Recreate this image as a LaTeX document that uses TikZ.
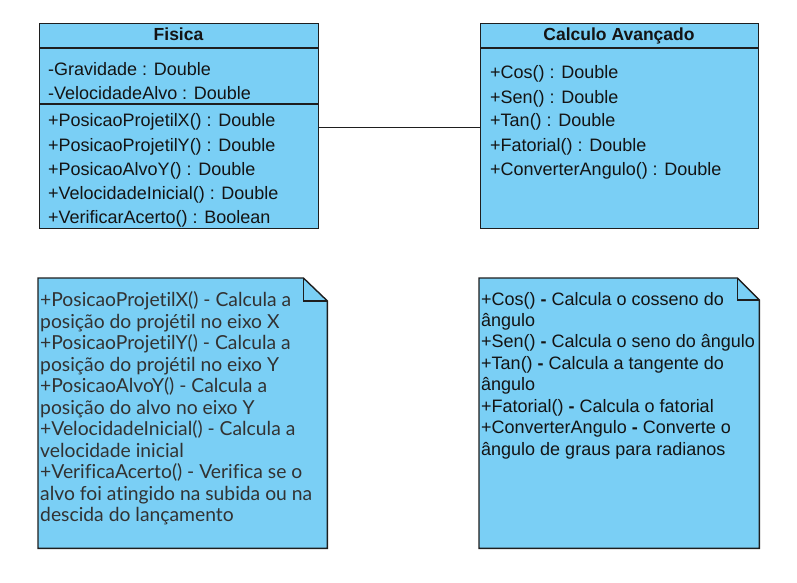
\documentclass[tikz,border=0pt]{standalone}
\usepackage{fontspec}
\setmainfont{Liberation Sans}
\newfontfamily\notefont[Ligatures={NoCommon}]{Lato}
\definecolor{boxfill}{RGB}{122,207,245}
\definecolor{boxline}{RGB}{30,30,30}
\definecolor{txtc}{RGB}{20,20,20}
\definecolor{notetxt}{RGB}{50,50,50}
\begin{document}
\begin{tikzpicture}[x=1pt,y=-1pt,
  umlbox/.style={draw=boxline, fill=boxfill, line width=1.4pt, inner sep=0pt, anchor=north west},
  sepline/.style={draw=boxline, line width=1.4pt},
  txt/.style={anchor=base west, inner sep=0pt, text=txtc, font=\fontsize{18}{21}\selectfont},
  hdr/.style={anchor=base, inner sep=0pt, text=txtc, font=\fontsize{17.5}{21}\selectfont\bfseries},
  ntxt/.style={anchor=base west, inner sep=0pt, text=notetxt, font=\notefont\fontsize{19.3}{21}\selectfont},
  rtxt/.style={anchor=base west, inner sep=0pt, text=txtc, font=\fontsize{18}{21}\selectfont},
  notebox/.style={inner sep=0pt, anchor=north west},
  link/.style={draw=boxline, line width=1.2pt}
]
\useasboundingbox (0,0) rectangle (797,583);

% Fisica class
\node[umlbox, minimum width=279pt, minimum height=205pt] (fis) at (39,23) {};
\draw[sepline] ([yshift=-25pt]fis.north west) -- ([yshift=-25pt]fis.north east);
\draw[sepline] ([yshift=-81pt]fis.north west) -- ([yshift=-81pt]fis.north east);
\node[hdr] (fish) at (178.5,41) {Fisica};
\node[txt] (fa1) at (48,76) {-Gravidade : Double};
\node[txt] (fa2) at (48,100) {-VelocidadeAlvo : Double};
\node[txt] (fm1) at (48,127) {+PosicaoProjetilX() : Double};
\node[txt] (fm2) at (48,151) {+PosicaoProjetilY() : Double};
\node[txt] (fm3) at (48,175) {+PosicaoAlvoY() : Double};
\node[txt] (fm4) at (48,199) {+VelocidadeInicial() : Double};
\node[txt] (fm5) at (48,223) {+VerificarAcerto() : Boolean};

% Calculo class
\node[umlbox, minimum width=278pt, minimum height=205pt] (calc) at (480,23) {};
\draw[sepline] ([yshift=-25pt]calc.north west) -- ([yshift=-25pt]calc.north east);
\node[hdr] (calch) at (619,41) {Calculo Avançado};
\node[txt] (cm1) at (490,79) {+Cos() : Double};
\node[txt] (cm2) at (490,103) {+Sen() : Double};
\node[txt] (cm3) at (490,127) {+Tan() : Double};
\node[txt] (cm4) at (490,151) {+Fatorial() : Double};
\node[txt] (cm5) at (490,175) {+ConverterAngulo() : Double};

% association
\draw[link] ([yshift=-1pt]fis.east) -- ([yshift=-1pt]calc.west);

% left note
\node[notebox, minimum width=289pt, minimum height=270pt] (n1) at (38,278) {};
\draw[umlbox] (n1.north west) -- ([xshift=-24pt]n1.north east) -- ([yshift=-23pt]n1.north east)
  -- (n1.south east) -- (n1.south west) -- cycle;
\draw[sepline, line join=miter] ([xshift=-24pt]n1.north east) -- ([xshift=-24pt,yshift=-23pt]n1.north east) -- ([yshift=-23pt]n1.north east);
\foreach \t [count=\i from 0] in {
  {+PosicaoProjetilX() - Calcula a},
  {posição do projétil no eixo X},
  {+PosicaoProjetilY() - Calcula a},
  {posição do projétil no eixo Y},
  {+PosicaoAlvoY() - Calcula a},
  {posição do alvo no eixo Y},
  {+VelocidadeInicial() - Calcula a},
  {velocidade inicial},
  {+VerificaAcerto() - Verifica se o},
  {alvo foi atingido na subida ou na},
  {descida do lançamento}}
  \node[ntxt] (nl\i) at (40,306.7+21.5*\i) {\t};

% right note
\node[notebox, minimum width=280pt, minimum height=270pt] (n2) at (479,278) {};
\draw[umlbox] (n2.north west) -- ([xshift=-22pt]n2.north east) -- ([yshift=-22pt]n2.north east)
  -- (n2.south east) -- (n2.south west) -- cycle;
\draw[sepline, line join=miter] ([xshift=-22pt]n2.north east) -- ([xshift=-22pt,yshift=-22pt]n2.north east) -- ([yshift=-22pt]n2.north east);
\foreach \t [count=\i from 0] in {
  {+Cos() \textbf{-} Calcula o cosseno do},
  {ângulo},
  {+Sen() \textbf{-} Calcula o seno do ângulo},
  {+Tan() \textbf{-} Calcula a tangente do},
  {ângulo},
  {+Fatorial() \textbf{-} Calcula o fatorial},
  {+ConverterAngulo \textbf{-} Converte o},
  {ângulo de graus para radianos}}
  \node[rtxt] (rl\i) at (481,305+21.43*\i) {\t};
\end{tikzpicture}
\end{document}
